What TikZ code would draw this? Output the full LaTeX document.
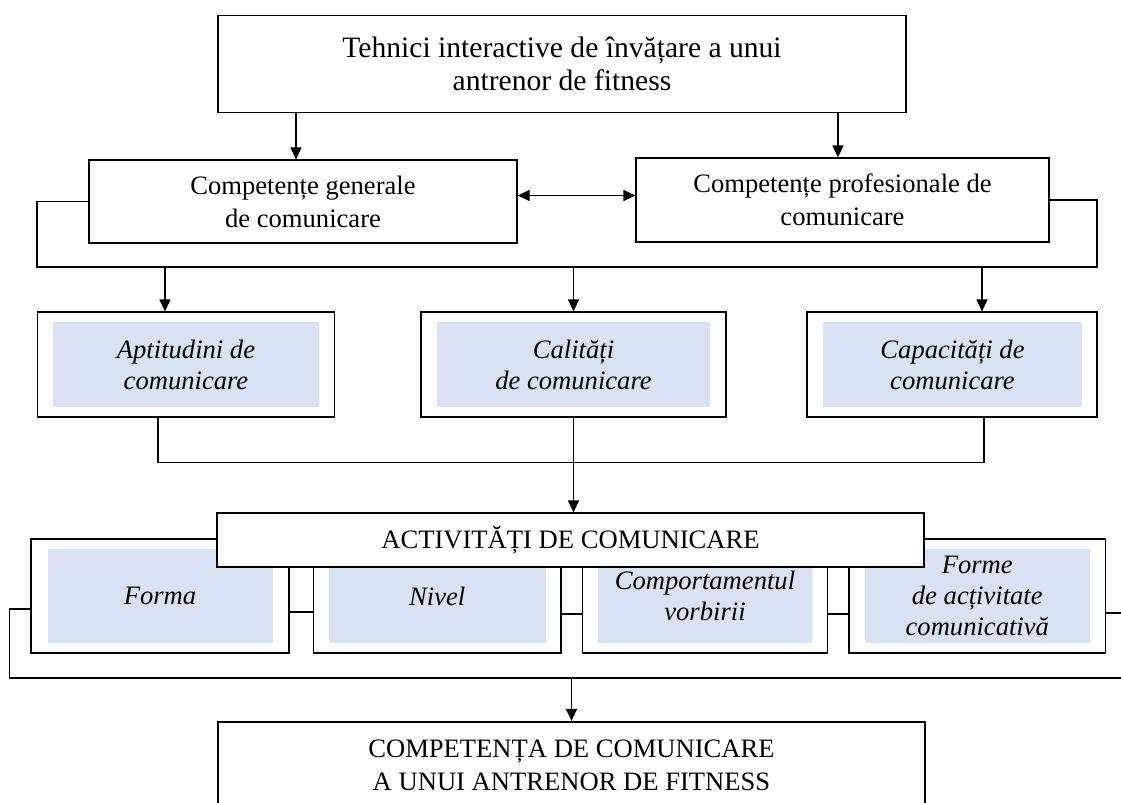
\documentclass[tikz,border=0pt]{standalone}
\usepackage{fontspec}
\setmainfont{Liberation Serif}
\usetikzlibrary{arrows.meta}
\definecolor{paleblue}{RGB}{217,226,243}
\tikzset{
  plainbox/.style={draw, fill=white, line width=0.6pt, align=center, inner sep=0pt, font=\fontsize{13.3}{16.5}\selectfont},
  framebox/.style={draw, fill=white, line width=0.6pt, inner sep=0pt},
  shadebox/.style={fill=paleblue, align=center, inner sep=0pt, font=\fontsize{13.3}{15.5}\selectfont\itshape},
  link/.style={line width=0.6pt},
  arr/.style={link, -{Triangle[length=6pt,width=5.5pt]}},
}

\begin{document}
\begin{tikzpicture}[x=0.5pt,y=-0.5pt]
        \clip (0,0) rectangle (1121,803);
        % top part
        \node[plainbox, font=\fontsize{14.8}{16.8}\selectfont, minimum width=344pt, minimum height=48.5pt] (tehnici) at (562.0, 64.0) {Tehnici interactive de învățare a unui\\antrenor de fitness};
        \node[plainbox, minimum width=214pt,   minimum height=41.5pt] (gen)     at (303.0,201.5) {Competențe generale\\de comunicare};
        \node[plainbox, minimum width=206.5pt, minimum height=42pt]   (prof)    at (842.5,200.0) {Competențe profesionale de\\comunicare};

        % second row
        \node[framebox, minimum width=148.75pt, minimum height=52.5pt] (apt) at (186.0,364.5) {};
        \node[framebox, minimum width=152.5pt,  minimum height=52.5pt] (cal) at (573.5,364.5) {};
        \node[framebox, minimum width=145pt,    minimum height=52.5pt] (cap) at (952.0,364.5) {};
        \node[shadebox, minimum width=133pt,    minimum height=42.5pt] (aptTxt) at (186.0,364.5) {Aptitudini de\\comunicare};
        \node[shadebox, minimum width=136.5pt,  minimum height=42.5pt] (calTxt) at (573.5,364.5) {Calități\\de comunicare};
        \node[shadebox, minimum width=129.5pt,  minimum height=42.5pt] (capTxt) at (952.5,364.5) {Capacități de\\comunicare};

        % third row
        \node[framebox, minimum width=129pt,   minimum height=57pt] (forma) at (160.0,596) {};
        \node[framebox, minimum width=123.7pt, minimum height=57pt] (nivel) at (437.3,596) {};
        \node[framebox, minimum width=122.5pt, minimum height=57pt] (comp)  at (705.0,596) {};
        \node[framebox, minimum width=128.3pt, minimum height=57pt] (forme) at (977.3,596) {};
        \node[shadebox, minimum width=112.5pt,  minimum height=47pt] (formaTxt) at (160.0,596) {Forma};
        \node[shadebox, minimum width=108.7pt,  minimum height=47pt] (nivelTxt) at (437.3,596) {Nivel};
        \node[shadebox, minimum width=107pt,    minimum height=47pt] (compTxt)  at (705.0,596) {Comportamentul\\vorbirii};
        \node[shadebox, minimum width=112.25pt, minimum height=47pt] (formeTxt) at (977.3,596) {Forme\\de acțivitate\\comunicativă};
        \node[plainbox, minimum width=353.5pt, minimum height=27pt] (act) at (570.5,540) {ACTIVITĂȚI DE COMUNICARE};

        % result
        \node[plainbox, line width=1.1pt, minimum width=353.5pt, minimum height=43pt] (fin) at (571.5,765) {COMPETENȚA DE COMUNICARE\\A UNUI ANTRENOR DE FITNESS};

        % connectors
        \coordinate (lnL) at (37,267);
        \coordinate (lnR) at (1097,267);
        \coordinate (lnB) at (9.6,678);
        \coordinate (lnE) at (1121,678);
        \coordinate (genIn)  at ([xshift=-3.5pt]gen.north);
        \coordinate (profIn) at ([xshift=-2.25pt]prof.north);
        \coordinate (aptIn)  at ([xshift=-10.5pt]apt.north);
        \coordinate (capIn)  at ([xshift=15pt]cap.north);
        \coordinate (aptOut) at ([xshift=-14pt]apt.south);
        \coordinate (capOut) at ([xshift=16pt]cap.south);
        \coordinate (stubR)  at ([yshift=-8.5pt]forme.east);

        \draw[arr] (tehnici.south -| genIn) -- (genIn);
        \draw[arr] (tehnici.south -| profIn) -- (profIn);
        \draw[link, {Triangle[length=6pt,width=5.5pt]}-{Triangle[length=6pt,width=5.5pt]}] ([yshift=3pt]gen.east) -- ([yshift=3pt]gen.east -| prof.west);
        \draw[link] (gen.west) -| (lnL) -- (lnR) |- (prof.east);
        \draw[arr] (aptIn |- lnL) -- (aptIn);
        \draw[arr] (cal.north |- lnL) -- (cal.north);
        \draw[arr] (capIn |- lnL) -- (capIn);
        \draw[link] (aptOut) -- ++(0,45) -| (capOut);
        \draw[arr] (cal.south) -- (cal.south |- act.north);
        \draw[link] ([yshift=-8pt]forma.east) -- ([yshift=-8pt]nivel.west);
        \draw[link] ([yshift=-9pt]nivel.east) -- ([yshift=-9pt]comp.west);
        \draw[link] ([yshift=-9pt]comp.east) -- ([yshift=-9pt]forme.west);
        \draw[link] (stubR) -- (stubR -| lnE);
        \draw[link] ([yshift=-6.5pt]forma.west) -| (lnB) -- (lnE);
        \draw[arr] (fin.north |- lnB) -- (fin.north);
\end{tikzpicture}
\end{document}
